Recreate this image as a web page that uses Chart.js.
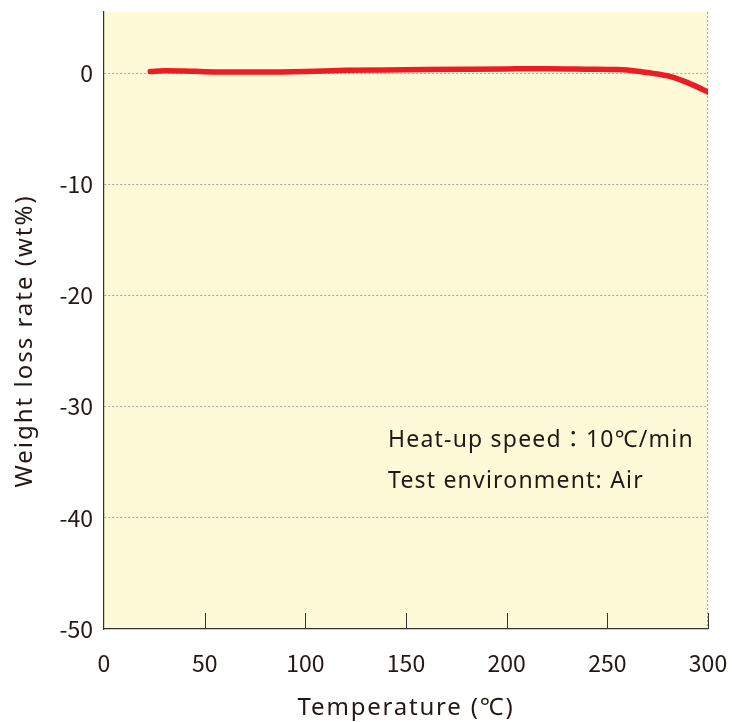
<!DOCTYPE html>
<html>
<head>
<meta charset="utf-8">
<script src="https://cdn.jsdelivr.net/npm/chart.js@4"></script>
<style>
  html, body { margin: 0; padding: 0; background: #fff; }
  #wrap { width: 732px; height: 722px; }
</style>
</head>
<body>
<div id="wrap"><canvas id="tgaChart" width="732" height="722"></canvas></div>
<script>
// values
const temperatures = [23, 30, 40, 50, 60, 80, 100, 120, 150, 180, 200, 220, 240, 255, 265, 272, 280, 287, 293, 300];
const weightLoss = [0.15, 0.22, 0.2, 0.12, 0.1, 0.1, 0.15, 0.25, 0.3, 0.35, 0.38, 0.4, 0.36, 0.32, 0.18, 0.0, -0.25, -0.65, -1.1, -1.7];
const xTicks = [0, 50, 100, 150, 200, 250, 300];
const yTicks = [-50, -40, -30, -20, -10, 0];
const xTitle = 'Temperature (\u2103)';
const yTitle = 'Weight loss rate (wt%)';
const notes = ['Heat-up speed\uFF1A10\u2103/min', 'Test environment: Air'];

const TICK_FONT = '"Noto Sans CJK JP", "Noto Sans", sans-serif';
const LABEL_FONT = '"Noto Sans", "Noto Sans CJK JP", sans-serif';
const TEXT = '#231815';

// yellow plot background, inner x ticks, axis titles and the condition notes
const decor = {
    id: 'decor',
    beforeDraw(chart) {
        const { ctx, chartArea: a } = chart;
        ctx.save();
        ctx.fillStyle = '#fef9d6';
        ctx.fillRect(a.left, a.top, a.right - a.left, a.bottom - a.top);
        ctx.restore();
    },
    afterDraw(chart) {
        const { ctx, chartArea: a } = chart;
        const x = chart.scales.x;
        ctx.save();
        ctx.strokeStyle = '#333';
        ctx.lineWidth = 1;
        xTicks.slice(1).forEach(v => {
            const px = Math.round(x.getPixelForValue(v)) + 0.5;
            ctx.beginPath();
            ctx.moveTo(px, a.bottom);
            ctx.lineTo(px, a.bottom - 16);
            ctx.stroke();
        });

        ctx.fillStyle = TEXT;
        ctx.textBaseline = 'middle';

        // notes
        ctx.font = '23px ' + LABEL_FONT;
        ctx.letterSpacing = '1.2px';
        ctx.textAlign = 'left';
        ctx.fillText(notes[0], 388, 440);
        ctx.fillText(notes[1], 388, 481);

        // axis titles, slightly spaced like the original
        ctx.font = '24px ' + LABEL_FONT;
        ctx.textAlign = 'center';
        ctx.letterSpacing = '1.8px';
        ctx.fillText(xTitle, (a.left + a.right) / 2, 708);

        ctx.letterSpacing = '2px';
        ctx.translate(25, 341);
        ctx.rotate(-Math.PI / 2);
        ctx.fillText(yTitle, 0, 0);
        ctx.restore();
    }
};

new Chart(document.getElementById('tgaChart').getContext('2d'), {
    type: 'line',
    data: {
        datasets: [{
            data: temperatures.map((t, i) => ({ x: t, y: weightLoss[i] })),
            borderColor: '#ec1c24',
            borderWidth: 5.5,
            borderCapStyle: 'round',
            borderJoinStyle: 'round',
            pointRadius: 0,
            cubicInterpolationMode: 'monotone',
            fill: false
        }]
    },
    options: {
        responsive: false,
        animation: false,
        devicePixelRatio: 1,
        layout: { padding: { top: 12, right: 24, left: 0, bottom: 0 } },
        plugins: { legend: { display: false }, tooltip: { enabled: false } },
        scales: {
            x: {
                type: 'linear',
                min: 0,
                max: 300,
                afterBuildTicks: s => { s.ticks = xTicks.map(v => ({ value: v })); },
                afterFit: s => { s.height = 93; s.paddingRight = 0; s.paddingLeft = 0; },
                border: { display: true, color: '#333', width: 1.2, dash: [2, 2] },
                grid: {
                    drawTicks: false,
                    color: c => (c.tick && c.tick.value === 300 ? '#aaa' : 'rgba(0,0,0,0)'),
                    lineWidth: 1.2
                },
                ticks: {
                    padding: 20,
                    color: TEXT,
                    font: { family: TICK_FONT, size: 23 },
                    maxRotation: 0
                }
            },
            y: {
                type: 'linear',
                min: -50,
                max: 5.5,
                afterBuildTicks: s => { s.ticks = yTicks.map(v => ({ value: v })); },
                afterFit: s => { s.width = 104; s.paddingTop = 0; s.paddingBottom = 0; },
                border: { display: true, color: '#333', width: 1.2, dash: [2, 2] },
                grid: {
                    drawTicks: false,
                    color: c => (c.tick && c.tick.value === -50 ? 'rgba(0,0,0,0)' : '#aaa'),
                    lineWidth: 1
                },
                ticks: {
                    padding: 11,
                    color: TEXT,
                    font: { family: TICK_FONT, size: 23 }
                }
            }
        }
    },
    plugins: [decor]
});
</script>
</body>
</html>
